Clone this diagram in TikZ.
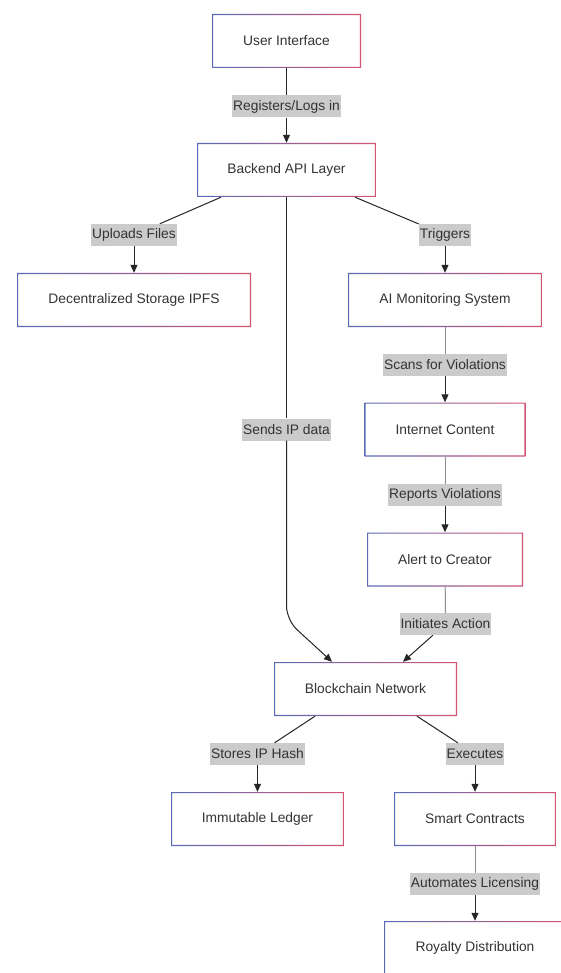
\documentclass[tikz,border=0pt]{standalone}
\usepackage{fontspec}
\setmainfont{Liberation Sans}
\usetikzlibrary{arrows.meta,calc}
\definecolor{txt}{HTML}{333333}
\definecolor{lbl}{HTML}{CBCBCB}
\definecolor{bblue}{HTML}{5A6BB5}
\definecolor{bred}{HTML}{D25472}
\definecolor{lgrey}{HTML}{8C8C8C}
\tikzset{
 gbox/.style={minimum height=54pt, inner sep=0pt, fill=white, text=txt,
   font=\fontsize{13.8}{16}\selectfont,
   path picture={\shade[left color=bblue,right color=bred,even odd rule]
    (path picture bounding box.south west) rectangle (path picture bounding box.north east)
    ([shift={(1.2pt,1.2pt)}]path picture bounding box.south west) rectangle
    ([shift={(-1.2pt,-1.2pt)}]path picture bounding box.north east);}},
 elabel/.style={fill=lbl, text=txt, inner xsep=1pt, inner ysep=0pt, minimum height=22pt,
   font=\fontsize{13.8}{16}\selectfont},
 edge/.style={line width=1pt, draw=black!85},
 arr/.style={edge, -{Triangle[length=8pt,width=7pt]}},
}
\begin{document}
\begin{tikzpicture}[x=1pt,y=-1pt]
\useasboundingbox[fill=white] (0,0) rectangle (561,973);
% boxes
\node[gbox, minimum width=149pt] (ui) at (286.5,41) {User Interface};
\node[gbox, minimum width=179pt] (be) at (286.5,170) {Backend API Layer};
\node[gbox, minimum width=234pt] (ipfs) at (134,300) {Decentralized Storage IPFS};
\node[gbox, minimum width=194pt] (ai) at (445,300) {AI Monitoring System};
\node[gbox, minimum width=161pt] (ic) at (445,429.5) {Internet Content};
\node[gbox, minimum width=156pt] (al) at (445,559.5) {Alert to Creator};
\node[gbox, minimum width=183pt] (bc) at (365.5,689) {Blockchain Network};
\node[gbox, minimum width=173pt] (il) at (257.5,819) {Immutable Ledger};
\node[gbox, minimum width=162pt] (sc) at (475,819) {Smart Contracts};
\node[gbox, minimum width=182pt] (rd) at (475,948) {Royalty Distribution};
% labels
\node[elabel] (l1) at (286.5,106.5) {Registers/Logs in};
\node[elabel] (l2) at (134,235) {Uploads Files};
\node[elabel] (l3) at (445,235) {Triggers};
\node[elabel] (l4) at (445,365) {Scans for Violations};
\node[elabel] (l5) at (286.5,429.5) {Sends IP data};
\node[elabel] (l6) at (445,495) {Reports Violations};
\node[elabel] (l7) at (445.5,624) {Initiates Action};
\node[elabel] (l8) at (257.5,754) {Stores IP Hash};
\node[elabel] (l9) at (475,754) {Executes};
\node[elabel] (l10) at (475,884) {Automates Licensing};
\coordinate (bend) at (286.5,620);
% edges
\draw[edge] (ui) -- (l1);
\draw[arr] (l1) -- (be);
\draw[edge] ([xshift=-65.5pt]be.south) -- (l2);
\draw[arr] (l2) -- (ipfs);
\draw[edge] ([xshift=68.5pt]be.south) -- (l3);
\draw[arr] (l3) -- (ai);
\draw[edge, draw=lgrey] (ai) -- (l4);
\draw[arr] (l4) -- (ic);
\draw[edge, draw=lgrey] (ic) -- (l6);
\draw[arr] (l6) -- (al);
\draw[edge, draw=lgrey] (al) -- (l7);
\draw[arr] (l7) -- ([xshift=37.5pt]bc.north);
\draw[edge] (be) -- (l5);
\draw[arr, rounded corners=14pt] (l5) -- (bend) -- ([xshift=-33.5pt]bc.north);
\draw[edge] ([xshift=-50.5pt]bc.south) -- (l8);
\draw[arr] (l8) -- (il);
\draw[edge] ([xshift=51.5pt]bc.south) -- (l9);
\draw[arr] (l9) -- (sc);
\draw[edge, draw=lgrey] (sc) -- (l10);
\draw[arr] (l10) -- (rd);
\end{tikzpicture}
\end{document}
